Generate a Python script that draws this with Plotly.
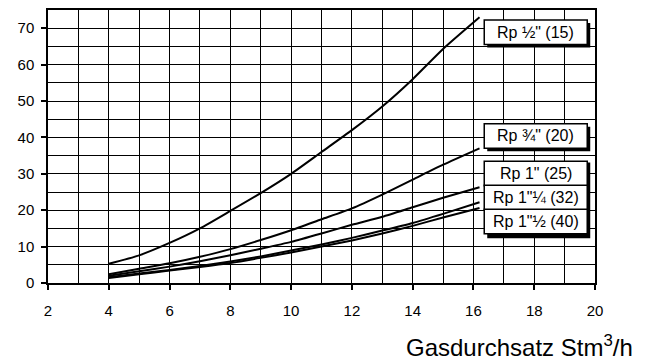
import plotly.graph_objects as go

# Gas flow rate (Stm3/h) and pressure loss for each pipe size
flow = [4, 5, 6, 7, 8, 9, 10, 11, 12, 13, 14, 15, 16.2]
rp_15 = [5.3, 7.6, 11.0, 15.0, 19.8, 24.7, 30.0, 36.0, 42.0, 48.5, 56.0, 64.3, 73.0]
rp_20 = [2.4, 3.9, 5.4, 7.2, 9.3, 11.8, 14.5, 17.5, 20.5, 24.3, 28.4, 32.5, 37.0]
rp_25 = [2.0, 3.2, 4.5, 6.0, 7.6, 9.4, 11.3, 13.6, 16.0, 18.2, 20.8, 23.4, 26.3]
rp_32 = [1.6, 2.6, 3.6, 4.7, 5.9, 7.3, 8.9, 10.6, 12.4, 14.4, 16.5, 19.0, 22.2]
rp_40 = [1.4, 2.4, 3.4, 4.4, 5.5, 6.9, 8.4, 10.0, 11.7, 13.6, 15.7, 18.0, 20.6]

series = [rp_15, rp_20, rp_25, rp_32, rp_40]
labels = ['Rp ½" (15)', 'Rp ¾" (20)', 'Rp 1" (25)', 'Rp 1"¼ (32)', 'Rp 1"½ (40)']
label_y = [68.9, 40.4, 30.1, 23.5, 16.9]
label_x = 18.05

x_ticks = [2, 4, 6, 8, 10, 12, 14, 16, 18, 20]
y_ticks = [0, 10, 20, 30, 40, 50, 60, 70]

FONT = "Liberation Sans, Arial, sans-serif"

fig = go.Figure()
for ys, name in zip(series, labels):
    fig.add_trace(go.Scatter(
        x=flow, y=ys, mode="lines", name=name,
        line=dict(color="black", width=2, shape="spline", smoothing=0.6),
        showlegend=False, hoverinfo="x+y+name",
    ))

shapes = []
BW, BH, SH = 51.5, 12.3, 3  # half width, half height, shadow offset (px)

# single label boxes (first two) with drop shadow
for yc in label_y[:2]:
    shapes.append(dict(type="rect", xref="x", yref="y", xsizemode="pixel", ysizemode="pixel",
                       xanchor=label_x, yanchor=yc,
                       x0=-BW + SH, x1=BW + SH, y0=-BH - SH, y1=BH - SH,
                       fillcolor="black", line=dict(width=0), layer="above"))
    shapes.append(dict(type="rect", xref="x", yref="y", xsizemode="pixel", ysizemode="pixel",
                       xanchor=label_x, yanchor=yc,
                       x0=-BW, x1=BW, y0=-BH, y1=BH,
                       fillcolor="white", line=dict(color="black", width=1.5), layer="above"))

# grouped label boxes (last three) sharing one shadow
group = label_y[2:]
shapes.append(dict(type="rect", xref="x", yref="y", xsizemode="pixel", ysizemode="pixel",
                   xanchor=label_x, yanchor=group[1],
                   x0=-BW + SH, x1=BW + SH, y0=-3 * BH - SH - 1, y1=3 * BH - SH + 1,
                   fillcolor="black", line=dict(width=0), layer="above"))
for yc in group:
    shapes.append(dict(type="rect", xref="x", yref="y", xsizemode="pixel", ysizemode="pixel",
                       xanchor=label_x, yanchor=yc,
                       x0=-BW, x1=BW, y0=-BH, y1=BH,
                       fillcolor="white", line=dict(color="black", width=1.5), layer="above"))

annotations = [
    dict(x=label_x, y=yc, xref="x", yref="y", text=t, showarrow=False,
         font=dict(family=FONT, size=16, color="black"), xanchor="center", yanchor="middle")
    for t, yc in zip(labels, label_y)
]
annotations.append(dict(
    x=1.073, y=-0.229, xref="paper", yref="paper", showarrow=False,
    text="Gasdurchsatz Stm<sup>3</sup>/h", xanchor="right", yanchor="middle",
    font=dict(family=FONT, size=24, color="black"),
))

fig.update_layout(
    width=653, height=363,
    margin=dict(l=48, r=58, t=8, b=80),
    paper_bgcolor="white", plot_bgcolor="white",
    shapes=shapes, annotations=annotations,
    xaxis=dict(
        range=[2, 20], tickvals=x_ticks, ticktext=[str(v) for v in x_ticks],
        showgrid=True, gridcolor="black", gridwidth=1,
        minor=dict(dtick=1, tick0=2, showgrid=True, gridcolor="black", gridwidth=1),
        showline=True, linecolor="black", linewidth=1.5, mirror=True,
        ticks="outside", ticklen=5, tickcolor="black", tickwidth=1.5,
        ticklabelstandoff=8,
        tickfont=dict(family=FONT, size=15, color="black"),
        zeroline=False, fixedrange=True,
    ),
    yaxis=dict(
        range=[0, 75], tickvals=y_ticks, ticktext=[str(v) for v in y_ticks],
        showgrid=True, gridcolor="black", gridwidth=1,
        minor=dict(dtick=5, tick0=0, showgrid=True, gridcolor="black", gridwidth=1),
        showline=True, linecolor="black", linewidth=1.5, mirror=True,
        ticks="outside", ticklen=5, tickcolor="black", tickwidth=1.5,
        ticklabelstandoff=4,
        tickfont=dict(family=FONT, size=15, color="black"),
        zeroline=False, fixedrange=True,
    ),
)

fig.write_html("out.html")
